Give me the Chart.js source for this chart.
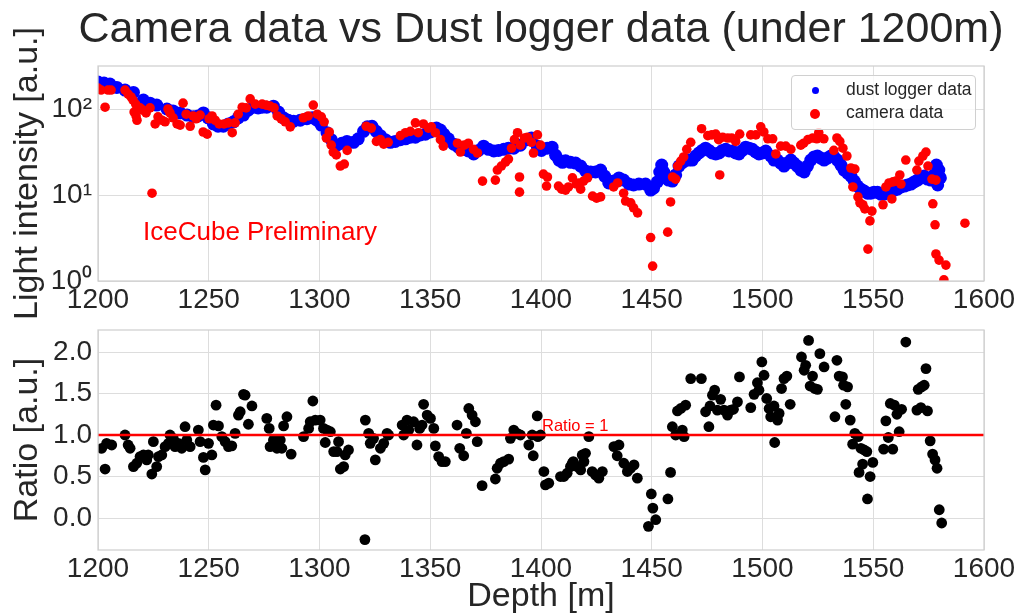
<!DOCTYPE html>
<html><head><meta charset="utf-8">
<script src="https://cdn.jsdelivr.net/npm/chart.js@4.4.1/dist/chart.umd.min.js"></script>
<style>
html,body{margin:0;padding:0;background:#fff;}
#wrap{position:relative;width:1022px;height:615px;overflow:hidden;font-family:'Liberation Sans',Arial,sans-serif;}
canvas{position:absolute;left:0;}
#c1{top:0;} #c2{top:300px;}
.txt{position:absolute;white-space:nowrap;}
#title{position:absolute;left:541px;top:2px;transform:translateX(-50%);font-size:43px;line-height:50px;color:#262626;white-space:nowrap;}
#legend{position:absolute;left:791px;top:75px;width:185px;height:55px;box-sizing:border-box;border:1px solid #d0d0d0;border-radius:4px;background:rgba(255,255,255,0.8);}
.dot{position:absolute;border-radius:50%;}
.ltxt{position:absolute;left:54px;font-size:17.5px;line-height:20px;color:#262626;white-space:nowrap;}
</style></head><body>
<div id="wrap">
<canvas id="c1" width="1022" height="322"></canvas>
<canvas id="c2" width="1022" height="315"></canvas>
<div id="title"></div>
<div class="txt" id="prelim" style="left:143px;top:216px;font-size:26px;line-height:30px;color:#ff0000;"></div>
<div class="txt" id="ratioLbl" style="left:542px;top:415px;font-size:16.5px;line-height:20px;color:#ff0000;"></div>
<div id="legend"></div>
</div>
<script>
const titleText = 'Camera data vs Dust logger data (under 1200m)';
const seriesLabels = ['dust logger data', 'camera data'];
const topYLabel = 'Light intensity [a.u.]';
const bottomYLabel = 'Ratio [a.u.]';
const xLabel = 'Depth [m]';
const watermark = 'IceCube Preliminary';
const ratioText = 'Ratio = 1';
const xTickStep = 50;
const logTicks = [1, 10, 100];
const logTickLabels = ['10\u2070', '10\u00b9', '10\u00b2'];
const ratioTicks = [0, 0.5, 1, 1.5, 2];

const dustDepth = [1200.0,1202.7,1205.4,1208.5,1212.2,1216.0,1220.5,1223.5,1226.5,1231.1,
1233.9,1237.1,1240.2,1243.1,1245.2,1247.6,1249.7,1252.1,1254.2,1256.6,
1258.9,1261.2,1263.3,1265.7,1267.8,1270.2,1272.3,1274.1,1276.2,1279.2,
1281.5,1283.7,1285.9,1288.3,1291.3,1294.3,1296.7,1298.8,1300.8,1303.4,
1305.3,1307.9,1310.1,1312.4,1315.4,1317.5,1319.9,1321.6,1323.7,1325.6,
1327.5,1329.7,1332.0,1334.2,1336.5,1338.8,1341.0,1343.3,1345.5,1347.8,
1350.1,1352.8,1354.6,1356.1,1358.2,1360.6,1362.7,1365.1,1367.2,1369.6,
1371.8,1374.1,1376.3,1378.7,1380.8,1383.2,1385.3,1387.7,1390.7,1393.7,
1395.7,1398.3,1400.2,1402.8,1405.0,1406.6,1408.1,1409.7,1411.1,1413.3,
1415.6,1417.9,1420.1,1422.4,1424.6,1426.9,1428.7,1430.6,1432.8,1435.2,
1437.3,1439.7,1441.8,1444.2,1447.2,1449.5,1450.8,1452.5,1453.6,1454.5,
1455.4,1456.3,1457.6,1459.3,1460.8,1462.3,1464.0,1465.3,1466.7,1468.3,
1469.8,1471.3,1472.8,1474.3,1475.8,1477.3,1478.9,1480.4,1481.9,1483.4,
1484.9,1486.4,1487.9,1489.4,1490.9,1492.4,1493.9,1495.4,1496.9,1498.4,
1500.0,1501.5,1503.7,1505.2,1506.7,1508.2,1509.7,1511.2,1512.8,1514.2,
1515.7,1517.3,1518.8,1520.3,1521.8,1523.3,1524.8,1526.3,1527.8,1529.3,
1530.8,1532.3,1533.8,1535.4,1536.8,1538.4,1539.9,1541.4,1542.9,1544.4,
1545.9,1547.4,1548.9,1550.4,1551.9,1553.4,1554.9,1556.4,1557.9,1559.4,
1560.9,1562.5,1564.0,1565.5,1567.0,1568.5,1570.0,1571.5,1573.0,1574.5,
1576.0,1577.5,1578.5,1579.1,1579.6,1580.3];
const dustIntensity = [206,200,195,178,166,156,127,117,111,100,
95,90,85,81,83,90,79,67,63,63,
67,71,79,85,97,105,103,105,105,108,
92,79,74,72,74,77,79,74,65,53,
44,38,40,42,41,45,55,62,63,55,
49,44,41,42,44,45,47,47,50,51,
54,60,57,51,45,39,36,34,32.5,30,
33,37,34,32.5,33,34,35,35,38,44,
46,37,33,35,36,29,25.5,24,25,24,
23.5,21.7,19,18.5,18.5,19.5,16.6,13.8,14.5,15.8,
14.9,13.4,13.1,13.4,13.4,11.4,12,14.2,18.5,22.3,
18.5,15.8,14.9,14.5,17.1,21.7,24,25.5,25.5,25.5,
28.4,30.8,33,35,33,30.8,30,30.8,33,34,
32.5,32.5,30.8,30,33,36,35,34,31.6,30,
30.8,32.5,28.4,25.5,25.5,23.5,21.7,23.5,25.5,23.5,
21.7,19.5,18.5,21.7,25.5,27.7,28.4,26.9,25.5,26.9,
28.4,27.7,25.5,22.3,19.5,18,16.6,14.5,12.7,11.7,
11.1,10.5,10.5,10.8,10.8,10.2,10.2,10.8,11.1,11.4,
11.7,12.4,12.7,13.1,13.4,14.2,14.9,15.8,16.6,15.3,
14.9,17.1,22.3,13.1,19.5,15.8];

const camDepth = [1200.0,1201.4,1203.2,1204.5,1205.9,1212.2,1213.6,1214.9,1215.8,1216.3,
1217.2,1217.0,1217.6,1219.0,1220.3,1221.7,1223.5,1224.4,1225.8,1227.1,
1228.9,1230.3,1231.6,1232.5,1233.9,1235.7,1237.1,1238.4,1239.8,1241.6,
1242.9,1244.3,1246.1,1247.5,1249.3,1250.2,1251.5,1252.9,1254.7,1256.9,
1258.8,1260.6,1261.9,1263.3,1265.1,1266.9,1268.7,1271.0,1274.1,1275.9,
1277.7,1279.5,1280.9,1282.7,1284.5,1286.8,1292.7,1294.9,1297.2,1299.0,
1300.8,1302.1,1303.1,1304.4,1305.3,1306.2,1307.6,1309.4,1311.2,1312.5,
1321.1,1323.4,1325.7,1327.5,1329.0,1331.0,1336.5,1338.8,1341.0,1343.3,
1344.6,1346.9,1349.2,1350.5,1352.3,1354.6,1355.9,1362.3,1363.6,1365.4,
1367.2,1369.5,1371.3,1373.6,1379.4,1380.3,1382.1,1384.0,1385.3,1386.7,
1388.0,1389.4,1390.7,1390.3,1390.3,1392.5,1393.9,1395.7,1396.6,1398.4,
1399.8,1401.1,1402.9,1402.5,1407.9,1409.3,1411.1,1412.4,1414.2,1416.0,
1417.0,1417.9,1419.2,1421.0,1423.3,1425.1,1426.9,1432.8,1434.6,1437.3,
1438.2,1440.5,1441.8,1443.6,1449.5,1450.4,1457.2,1458.5,1459.4,1460.8,
1461.7,1463.1,1464.4,1465.8,1467.6,1472.5,1475.3,1477.1,1478.9,1480.2,
1480.7,1482.0,1484.3,1486.1,1487.9,1489.7,1494.7,1497.0,1499.2,1500.6,
1502.4,1504.6,1506.0,1508.2,1510.5,1512.8,1517.3,1518.6,1520.5,1522.7,
1524.5,1525.4,1527.7,1532.2,1533.6,1534.9,1536.3,1538.1,1539.9,1541.7,
1540.8,1543.1,1544.0,1545.3,1546.2,1547.6,1548.5,1549.4,1554.4,1555.7,
1557.1,1558.4,1558.9,1560.2,1562.0,1562.5,1564.7,1569.7,1570.6,1572.4,
1573.8,1574.7,1576.5,1578.3,1576.9,1577.9,1578.3,1579.7,1581.9,1582.8,
1591.4];
const camIntensity = [175,166,105,166,166,166,149,138,127,92,
83,114,74,103,97,90,103,10.5,67,81,
74,71,100,90,79,67,65,117,87,63,
83,77,85,54,51,77,83,74,67,67,
69,53,69,87,105,103,131,114,114,111,
108,103,83,77,71,62,79,83,111,87,
81,71,46,54,38,31.6,29.2,21.7,22.9,33,
63,60,42,44,39,41,49,53,55,69,
53,67,60,62,53,44,37,40,31.6,38,
40,34,30.8,14.5,14.9,19.5,21.7,24.2,26.2,35,
44,53,38,16.2,10.8,46,47,41,30.8,50,
38,17.5,16.2,12.7,12.7,11.7,11.4,12.4,15.8,13.4,
13.8,11.7,14.5,15.8,9.7,9.2,9.5,12.4,13.8,10.5,
8.5,8.1,7.1,6.2,3.2,1.49,3.7,8.3,16.2,15.3,
21.7,24.8,27.7,34,41,59,49,50,51,44,
17.1,47,46,46,42,51,50,50,62,54,
45,45,30,37,37,34,38,40,44,46,
45,53,45,33,46,42,35,28.4,20.6,20.0,
12.4,9.5,8.1,7.7,6.9,2.35,5.0,6.5,7.7,12.4,
13.8,9.0,14.2,14.5,17.1,13.4,25.5,19.5,24.8,28.4,
31.6,21.7,15.3,14.9,7.9,4.5,2.06,1.75,1.03,1.53,
4.7];

const ratioDepth = [1201.7,1203.2,1203.9,1206.2,1212.2,1213.6,1214.5,1216.0,1217.5,1219.0,
1220.5,1222.0,1222.7,1224.3,1225.0,1226.5,1227.3,1228.8,1230.3,1231.8,
1232.5,1234.0,1234.8,1236.3,1237.8,1239.3,1240.1,1241.6,1245.3,1246.1,
1247.6,1248.4,1249.9,1251.4,1252.1,1253.3,1254.4,1255.9,1257.4,1258.9,
1260.4,1261.9,1263.4,1264.2,1265.7,1266.4,1267.9,1269.5,1276.2,1277.3,
1277.7,1279.2,1280.8,1282.3,1283.0,1283.8,1285.3,1287.2,1292.8,1295.1,
1295.8,1297.0,1298.1,1300.3,1301.8,1302.6,1303.4,1304.9,1306.4,1307.9,
1308.6,1309.4,1310.9,1311.6,1313.1,1320.5,1320.7,1322.2,1322.9,1324.4,
1325.2,1327.5,1329.0,1330.5,1331.2,1337.3,1338.0,1339.5,1340.3,1342.5,
1344.0,1345.2,1346.3,1347.0,1348.6,1350.1,1351.6,1352.3,1353.8,1355.3,
1356.8,1362.1,1363.3,1365.1,1366.3,1367.4,1368.9,1370.4,1371.2,1373.4,
1379.4,1380.2,1381.7,1383.2,1385.4,1386.2,1387.7,1389.2,1390.7,1394.5,
1396.0,1396.5,1398.3,1398.6,1399.8,1401.3,1402.0,1403.5,1408.8,1410.3,
1411.8,1413.3,1414.1,1414.6,1416.4,1417.9,1418.6,1419.4,1420.1,1421.6,
1423.1,1424.6,1426.1,1427.7,1432.9,1434.4,1435.2,1437.4,1439.0,1440.5,
1442.0,1443.5,1448.5,1449.8,1450.5,1451.8,1457.3,1458.5,1459.3,1460.8,
1461.6,1463.1,1463.8,1464.6,1465.3,1467.6,1472.4,1474.3,1475.8,1476.3,
1477.4,1478.4,1479.6,1481.1,1482.6,1484.2,1485.6,1486.9,1488.7,1489.6,
1494.7,1496.2,1497.7,1498.4,1499.7,1500.7,1501.9,1503.0,1503.7,1505.2,
1505.5,1506.8,1507.5,1508.6,1509.7,1511.0,1512.5,1517.6,1518.8,1519.5,
1520.8,1521.5,1522.6,1523.6,1524.8,1525.9,1527.8,1532.7,1533.6,1534.6,
1536.1,1536.6,1537.6,1538.4,1539.6,1540.7,1541.7,1543.2,1543.6,1544.4,
1545.2,1545.9,1547.1,1547.4,1548.6,1549.8,1554.7,1555.7,1556.8,1557.7,
1558.8,1559.5,1560.7,1561.7,1562.8,1564.7,1569.7,1570.3,1571.5,1571.8,
1573.0,1573.8,1574.5,1575.7,1576.8,1577.9,1578.8,1579.8,1580.9];
const ratioValue = [0.84,0.59,0.90,0.88,1.00,0.88,0.84,0.62,0.66,0.74,
0.76,0.70,0.76,0.53,0.92,0.62,0.74,0.76,0.86,0.90,
1.00,0.96,0.86,0.90,0.84,1.10,0.94,0.86,1.06,0.92,
0.73,0.58,0.90,0.76,1.12,1.36,1.11,0.98,0.92,0.86,
0.87,1.02,1.24,1.28,1.49,1.48,1.13,1.35,1.20,1.08,
0.86,0.94,0.84,0.94,0.84,1.11,1.22,0.77,0.98,1.08,
1.16,1.41,1.18,1.18,1.08,0.91,1.06,1.04,0.80,0.80,
0.92,0.59,0.62,0.76,0.82,-0.26,1.18,1.02,0.90,0.96,
0.70,0.84,0.90,1.02,1.00,1.12,1.00,1.18,1.06,1.16,
0.88,1.08,1.12,1.37,1.24,1.20,1.08,0.87,0.74,0.68,
0.68,1.12,0.84,0.75,1.02,1.32,1.24,1.16,0.92,0.39,
0.47,0.60,0.66,0.68,0.71,0.96,1.06,1.02,1.00,0.88,
1.00,0.75,1.23,0.98,1.00,0.56,0.40,0.42,0.50,0.50,
0.54,0.62,0.66,0.68,0.62,0.58,0.76,0.68,0.78,0.98,
0.56,0.52,0.48,0.56,0.86,0.75,0.88,0.66,0.56,0.60,
0.64,0.48,-0.10,0.29,0.12,-0.02,0.23,0.55,1.10,1.00,
1.29,1.32,1.06,0.98,1.36,1.68,1.68,1.28,1.10,1.35,
1.48,1.54,1.30,1.43,1.30,1.24,1.30,1.31,1.40,1.70,
1.33,1.49,1.63,1.54,1.88,1.72,1.44,1.32,1.22,1.35,
0.91,1.18,1.26,1.56,1.68,1.71,1.37,1.94,1.78,1.84,
2.14,1.59,1.71,1.56,1.55,1.98,1.82,1.22,1.90,1.71,
1.70,1.60,1.37,1.58,1.18,0.89,1.02,0.98,0.55,0.84,
0.65,0.82,0.80,0.23,0.50,0.67,0.83,1.17,0.97,1.38,
0.83,1.36,1.25,1.04,1.31,2.12,1.30,1.55,1.33,1.58,
1.60,1.80,1.29,0.93,0.77,0.70,0.60,0.10,-0.06];

const ratioLineDepth = [1200, 1600];
const ratioLineValue = [1, 1];

const TXT = '#262626';
const GRID = '#dddddd';
Chart.defaults.font.family = "'Liberation Sans', Arial, sans-serif";
Chart.defaults.color = TXT;

const pts = (xs, ys) => xs.map((x, i) => ({x: x, y: ys[i]}));

const frame = {
  id: 'frame',
  afterDatasetsDraw(chart) {
    const {ctx, chartArea: a} = chart;
    ctx.save();
    ctx.strokeStyle = '#cfcfcf';
    ctx.lineWidth = 1.25;
    ctx.strokeRect(a.left, a.top, a.right - a.left, a.bottom - a.top);
    ctx.restore();
  }
};

const xScale = (height, withTitle) => ({
  type: 'linear', min: 1200, max: 1600,
  ticks: {stepSize: xTickStep, color: TXT, font: {size: 28}, padding: 2.5, maxRotation: 0, callback: v => String(v)},
  grid: {color: GRID, drawTicks: false, lineWidth: 1},
  border: {display: false},
  title: withTitle ? {display: true, text: xLabel, color: TXT, font: {size: 34, lineHeight: 1.1}, padding: {top: 0, bottom: 0}} : {display: false},
  afterFit(s) { s.height = height; }
});

new Chart(document.getElementById('c1'), {
  type: 'scatter',
  data: {datasets: [
    {label: seriesLabels[0], data: pts(dustDepth, dustIntensity), backgroundColor: '#0000ff', borderWidth: 0, pointRadius: 6.5, pointHoverRadius: 6.5, order: 2, clip: 0},
    {label: seriesLabels[1], data: pts(camDepth, camIntensity), backgroundColor: '#ff0000', borderWidth: 0, pointRadius: 4.8, pointHoverRadius: 4.8, order: 1, clip: 0}
  ]},
  options: {
    responsive: false, animation: false, events: [],
    layout: {padding: {left: 0, right: 38, top: 66, bottom: 0}},
    plugins: {legend: {display: false}, tooltip: {enabled: false}, title: {display: false}},
    scales: {
      x: xScale(41, false),
      y: {
        type: 'logarithmic', min: 1, max: 316.23,
        afterBuildTicks(s) { s.ticks = logTicks.map(v => ({value: v})); },
        ticks: {color: TXT, font: {size: 28}, padding: 6, callback: v => logTickLabels[logTicks.indexOf(v)]},
        grid: {color: GRID, drawTicks: false, lineWidth: 1},
        border: {display: false},
        title: {display: true, text: topYLabel, color: TXT, font: {size: 34}, padding: {top: 7, bottom: 0}},
        afterFit(s) { s.width = 98; }
      }
    }
  },
  plugins: [frame]
});

new Chart(document.getElementById('c2'), {
  type: 'scatter',
  data: {datasets: [
    {label: 'ratio', data: pts(ratioDepth, ratioValue), backgroundColor: '#000000', borderWidth: 0, pointRadius: 5.4, pointHoverRadius: 5.4, order: 2, clip: 0},
    {label: ratioText, data: pts(ratioLineDepth, ratioLineValue), showLine: true, borderColor: '#ff0000', borderWidth: 2.5, pointRadius: 0, order: 1, clip: 0}
  ]},
  options: {
    responsive: false, animation: false, events: [],
    layout: {padding: {left: 0, right: 38, top: 30, bottom: 0}},
    plugins: {legend: {display: false}, tooltip: {enabled: false}},
    scales: {
      x: xScale(65, true),
      y: {
        type: 'linear', min: -0.385, max: 2.265,
        afterBuildTicks(s) { s.ticks = ratioTicks.map(v => ({value: v})); },
        ticks: {color: TXT, font: {size: 28}, padding: 6, callback: v => Number(v).toFixed(1)},
        grid: {color: GRID, drawTicks: false, lineWidth: 1},
        border: {display: false},
        title: {display: true, text: bottomYLabel, color: TXT, font: {size: 34}, padding: {top: 7, bottom: 0}},
        afterFit(s) { s.width = 98; }
      }
    }
  },
  plugins: [frame]
});

document.getElementById('title').textContent = titleText;
document.getElementById('prelim').textContent = watermark;
document.getElementById('ratioLbl').textContent = ratioText;
const lg = document.getElementById('legend');
const legendItems = [
  {label: seriesLabels[0], color: '#0000ff', r: 3.5, cy: 14.3},
  {label: seriesLabels[1], color: '#ff0000', r: 5, cy: 37.7}
];
legendItems.forEach((it, i) => {
  const d = document.createElement('div');
  d.className = 'dot';
  d.style.cssText = `left:${23 - it.r}px;top:${it.cy - it.r}px;width:${2*it.r}px;height:${2*it.r}px;background:${it.color};`;
  lg.appendChild(d);
  const t = document.createElement('div');
  t.className = 'ltxt';
  t.style.top = (i === 0 ? 2.6 : 25.9) + 'px';
  t.textContent = it.label;
  lg.appendChild(t);
});
</script>
</body></html>
